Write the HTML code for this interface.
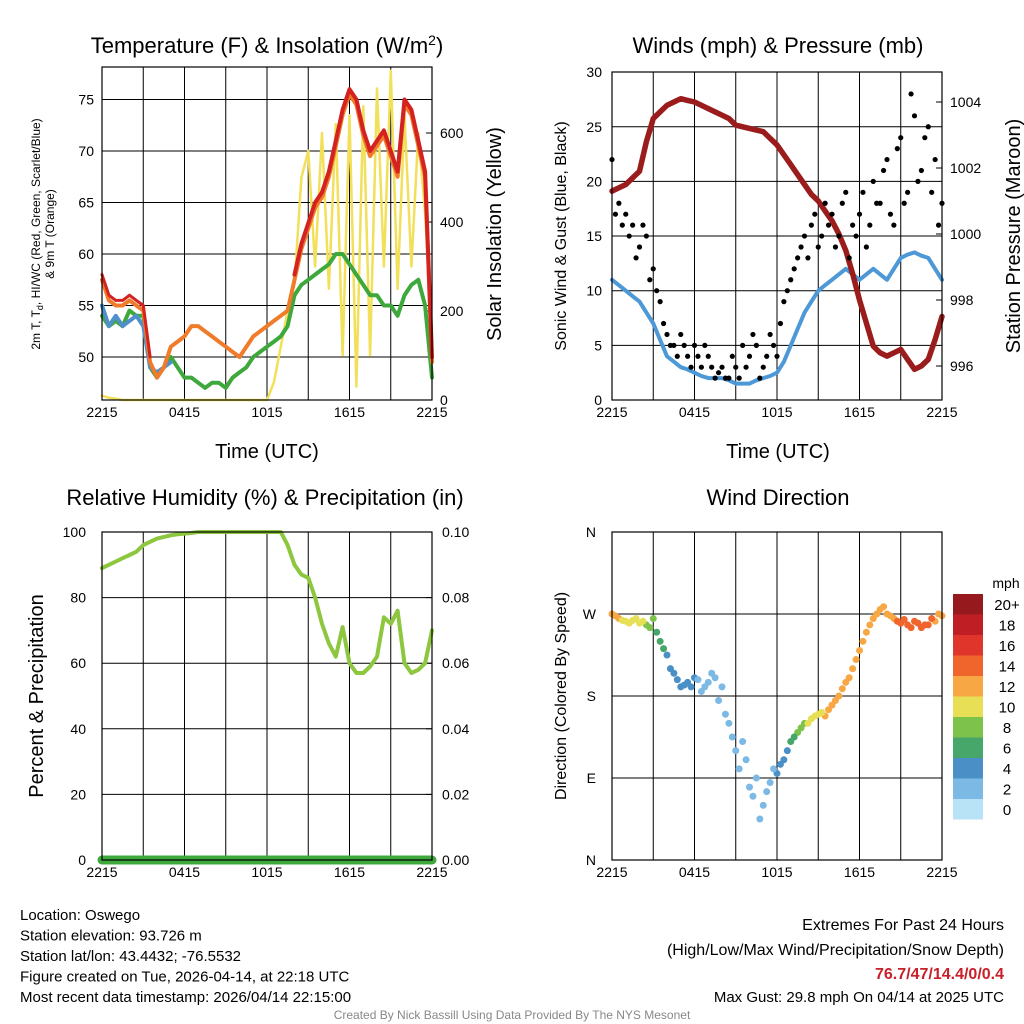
<!DOCTYPE html>
<html><head><meta charset="utf-8"><style>
html,body{margin:0;padding:0;background:#fff;}
svg{display:block;font-family:"Liberation Sans",sans-serif;}
</style></head><body>
<svg id="c" width="1024" height="1024" viewBox="0 0 1024 1024" xmlns="http://www.w3.org/2000/svg"></svg>
<script>
// ---- data (half-hourly, hours since 2215 UTC) ----
const hours = [0,0.5,1,1.5,2,2.5,3,3.5,4,4.5,5,5.5,6,6.5,7,7.5,8,8.5,9,9.5,10,10.5,11,11.5,12,12.5,13,13.5,14,14.5,15,15.5,16,16.5,17,17.5,18,18.5,19,19.5,20,20.5,21,21.5,22,22.5,23,23.5,24];
const hoursOffset = [0.25,0.75,1.25,1.75,2.25,2.75,3.25,3.75,4.25,4.75,5.25,5.75,6.25,6.75,7.25,7.75,8.25,8.75,9.25,9.75,10.25,10.75,11.25,11.75,12.25,12.75,13.25,13.75,14.25,14.75,15.25,15.75,16.25,16.75,17.25,17.75,18.25,18.75,19.25,19.75,20.25,20.75,21.25,21.75,22.25,22.75,23.25,23.75];
const xTickLabels = ["2215","0415","1015","1615","2215"];
const tempRed = [58,56,55.5,55.5,56,55.5,55,50,48,49,51,51.5,52,53,53,52.5,52,51.5,51,50.5,50,51,52,52.5,53,53.5,54,54.5,58,61,63,65,66,68,71,74,76,75,72,70,71,72,70,68,75,74,71,68,50];
const tempOrange = [57.5,55.5,55,55,55.5,55,54.5,49.5,48,49,51,51.5,52,53,53,52.5,52,51.5,51,50.5,50,51,52,52.5,53,53.5,54,54.5,57.5,60.5,62.5,64.5,65.5,67.5,70.5,73.5,75.5,74.5,71.5,69.5,70.5,71.5,69.5,67.5,74.5,73.5,70.5,67.5,49.5];
const dewGreen = [54,53,53.5,53,54.5,54,54,49,48,49,50,49,48,48,47.5,47,47.5,47.5,47,48,48.5,49,50,50.5,51,51.5,52,53,56,57,57.5,58,58.5,59,60,60,59,58,57,56,56,55,55,54,56,57,57.5,55,48];
const windChill = [55,53,54,53,53.5,54,53,49,48.5,49,49.5];
const insolation = [10,5,3,0,0,0,0,0,0,0,0,0,0,0,0,0,0,0,0,0,0,0,0,0,0,40,120,200,260,500,560,300,600,250,620,100,640,30,660,100,700,300,740,250,640,300,600,420,150];
const pressure = [1001.3,1001.4,1001.5,1001.7,1001.9,1002.8,1003.5,1003.7,1003.9,1004.0,1004.1,1004.05,1004.0,1003.9,1003.8,1003.7,1003.6,1003.5,1003.3,1003.25,1003.2,1003.15,1003.1,1002.9,1002.7,1002.4,1002.1,1001.8,1001.5,1001.2,1001.0,1000.7,1000.4,1000.0,999.5,998.8,998.0,997.3,996.6,996.4,996.3,996.4,996.5,996.2,995.9,996.0,996.2,996.8,997.5];
const windSpeed = [11,10.5,10,9.5,9,8,7,5.5,4,3.5,3,2.8,2.5,2.2,2,2,2,1.8,1.5,1.5,1.5,1.8,2,2.2,2.5,3.5,5,6.5,8,9,10,10.5,11,11.5,12,11.5,11,11.5,12,11.5,11,12,13,13.3,13.5,13.2,13,12,11];
const gusts = [22,18,17,16,14,15,12,9,6,5,6,4,5,3,4,2,3,2,3,5,4,5,3,6,4,9,11,13,15,16,14,18,17,15,19,16,17,14,20,18,22,16,24,19,26,21,25,22,18];
const gusts2 = [17,16,15,13,16,11,10,7,5,4,5,3,4,5,3,2.5,2,4,2,3,6,2,4,5,7,10,12,14,13,17,15,16,14,18,13,15,19,16,18,21,17,23,18,28,20,24,19,16];
const rh = [89,90,91,92,93,94,96,97,98,98.5,99,99.3,99.5,99.7,100,100,100,100,100,100,100,100,100,100,100,100,100,96,90,87,86,80,72,66,62,71,60,57,57,59,62,74,72,76,60,57,58,60,70];
const precip = [0,0,0,0,0,0,0,0,0,0,0,0,0,0,0,0,0,0,0,0,0,0,0,0,0,0,0,0,0,0,0,0,0,0,0,0,0,0,0,0,0,0,0,0,0,0,0,0,0];
const windDir = [270,265,262,263,260,258,265,240,225,205,190,195,200,185,195,200,190,150,120,130,80,90,60,85,95,110,130,140,150,155,160,158,170,180,195,210,230,250,265,275,270,265,260,258,262,255,258,262,268];
const windDir2 = [268,263,260,265,262,255,250,232,210,198,192,190,198,190,205,175,160,135,100,110,70,45,75,100,105,120,135,145,150,158,162,165,175,188,200,220,240,258,270,278,268,262,264,255,260,258,265,270];
const cbLabels = ["20+","18","16","14","12","10","8","6","4","2","0"];
const cbColors = ["#961a1d","#c01e25","#e0352a","#f0652c","#f7a845","#e7e057","#7cc24b","#47a76b","#4a8fc6","#7db9e5","#b8e2f6"];

const svg = document.getElementById('c');
const NS = "http://www.w3.org/2000/svg";
function mk(tag, attrs, parent){const e=document.createElementNS(NS,tag);for(const k in attrs)e.setAttribute(k,attrs[k]);(parent||svg).appendChild(e);return e;}
function txt(x,y,s,size,anchor,extra){const e=mk('text',Object.assign({x:x,y:y,'font-size':size,'text-anchor':anchor||'middle',fill:'#000'},extra||{}));e.textContent=s;return e;}
function interp(arrH,arr,h){for(let i=0;i<arrH.length-1;i++){if(h>=arrH[i]&&h<=arrH[i+1]){const f=(h-arrH[i])/(arrH[i+1]-arrH[i]);return arr[i]+(arr[i+1]-arr[i])*f;}}return arr[arr.length-1];}

function panel(x0,y0,x1,y1,name){
  const xs = h=>x0+(x1-x0)*h/24;
  for(let i=1;i<8;i++){const l=mk('line',{x1:xs(i*3),x2:xs(i*3),y1:y0,y2:y1,stroke:'#000','stroke-width':1});
    
    }
  for(let i=0;i<5;i++){const xx=xs(i*6);
    const t=txt(xx,y1+17,xTickLabels[i],14);
    
    
    mk('line',{x1:xx,x2:xx,y1:y1,y2:y1-6,stroke:'#000'});}
  return xs;
}
function frame(x0,y0,x1,y1,name){const r=mk('rect',{x:x0,y:y0,width:x1-x0,height:y1-y0,fill:'none',stroke:'#000','stroke-width':1.2});
  
  }
function poly(xs,ys,arrH,arr,color,w,name){let p='';arr.forEach((v,i)=>{p+=(i?'L':'M')+xs(arrH[i]).toFixed(1)+','+ys(v).toFixed(1);});
  const e=mk('path',{d:p,fill:'none',stroke:color,'stroke-width':w,'stroke-linejoin':'round','stroke-linecap':'round'});
  
  return e;}
function hgrid(x0,x1,y,name){const l=mk('line',{x1:x0,x2:x1,y1:y,y2:y,stroke:'#000','stroke-width':1});
  
  }

// ---- Panel 1: temperature ----
{
 const X0=102,X1=432,Y0=67,Y1=400;
 const xs=panel(X0,Y0,X1,Y1,'temp');
 const ty=v=>357-(v-50)*10.3;
 const iy=v=>400-v*0.445;
 [50,55,60,65,70,75].forEach(v=>{hgrid(X0,X1,ty(v),'temp');
   const t=txt(X0-8,ty(v)+5,String(v),14,'end');
   
   });
 [0,200,400,600].forEach(v=>{const t=txt(X1+8,iy(v)+5,String(v),14,'start');
   
   
   mk('line',{x1:X1,x2:X1-6,y1:iy(v),y2:iy(v),stroke:'#000'});});
 poly(xs,iy,hours,insolation,'#f2e05a',2.5,'insolation-line');
 poly(xs,ty,hours,dewGreen,'#3ea83c',4,'dewpoint-line');
 poly(xs,ty,hours.slice(0,windChill.length),windChill,'#4e8fcc',4,'windchill-line');
 poly(xs,ty,hours,tempOrange,'#f07b2a',4,'temp-9m-line');
 poly(xs,ty,hours.slice(28),tempRed.slice(28),'#d3221f',4,'temp-2m-line');
 poly(xs,ty,hours.slice(0,8),tempRed.slice(0,8),'#d3221f',3,'temp-2m-early-line');
 frame(X0,Y0,X1,Y1,'temp');
 const ti=txt(267,53,'Temperature (F) & Insolation (W/m',22);
 const ts=mk('tspan',{dy:-8,'font-size':14},ti);ts.textContent='2';
 const ts2=mk('tspan',{dy:8},ti);ts2.textContent=')';
 const xl=txt(267,458,'Time (UTC)',20);
 const yl1=txt(0,0,'2m T, T',12,'middle',{transform:'translate(40,234) rotate(-90)'});
 const sb=mk('tspan',{dy:3,'font-size':9},yl1);sb.textContent='d';const sb2=mk('tspan',{dy:-3},yl1);sb2.textContent=', HI/WC (Red, Green, Scarlet/Blue)';
 
 const yl2=txt(0,0,'& 9m T (Orange)',12,'middle',{transform:'translate(54,234) rotate(-90)'});
 
 const yr=txt(0,0,'Solar Insolation (Yellow)',20,'middle',{transform:'translate(501,234) rotate(-90)'});
 
}

// ---- Panel 2: winds & pressure ----
{
 const X0=612,X1=942,Y0=72,Y1=400;
 const xs=panel(X0,Y0,X1,Y1,'wind');
 const wy=v=>400-v*10.93;
 const py=v=>366-(v-996)*33;
 [0,5,10,15,20,25,30].forEach(v=>{if(v>0&&v<30)hgrid(X0,X1,wy(v),'wind');
   const t=txt(X0-10,wy(v)+5,String(v),14,'end');
   
   });
 [996,998,1000,1002,1004].forEach(v=>{const t=txt(X1+8,py(v)+5,String(v),14,'start');
   
   
   mk('line',{x1:X1,x2:X1-6,y1:py(v),y2:py(v),stroke:'#000'});});
 poly(xs,wy,hours,windSpeed,'#4d98d6',4,'sonic-wind-line');
 poly(xs,py,hours,pressure,'#9b1c1c',5.5,'pressure-line');
 gusts.forEach((g,i)=>{const c=mk('circle',{cx:xs(hours[i]),cy:wy(g),r:2.6,fill:'#000'});
   
   });
 gusts2.forEach((g,i)=>{const c=mk('circle',{cx:xs(hoursOffset[i]),cy:wy(g),r:2.6,fill:'#000'});
   
   });
 frame(X0,Y0,X1,Y1,'wind');
 const ti=txt(778,53,'Winds (mph) & Pressure (mb)',22);
 const xl=txt(778,458,'Time (UTC)',20);
 const yl=txt(0,0,'Sonic Wind & Gust (Blue, Black)',16,'middle',{transform:'translate(566,236) rotate(-90)'});
 
 const yr=txt(0,0,'Station Pressure (Maroon)',20,'middle',{transform:'translate(1020,236) rotate(-90)'});
 
}

// ---- Panel 3: RH & precip ----
{
 const X0=102,X1=432,Y0=532,Y1=860;
 const xs=panel(X0,Y0,X1,Y1,'rh');
 const ry=v=>860-v*3.28;
 const py=v=>860-v*3280;
 [0,20,40,60,80,100].forEach(v=>{if(v>0&&v<100)hgrid(X0,X1,ry(v),'rh');
   const t=txt(X0-16,ry(v)+5,String(v),14,'end');
   
   });
 [0,0.02,0.04,0.06,0.08,0.10].forEach(v=>{const t=txt(X1+10,py(v)+5,v.toFixed(2),14,'start');
   
   
   mk('line',{x1:X1,x2:X1-6,y1:py(v),y2:py(v),stroke:'#000'});});
 poly(xs,ry,hours,rh,'#8dc63f',4,'rh-line');
 poly(xs,py,hours,precip,'#3ea83c',9,'precip-line');
 frame(X0,Y0,X1,Y1,'rh');
 const ti=txt(265,505,'Relative Humidity (%) & Precipitation (in)',22);
 const yl=txt(0,0,'Percent & Precipitation',20,'middle',{transform:'translate(43,696) rotate(-90)'});
 
}

// ---- Panel 4: wind direction ----
{
 const X0=612,X1=942,Y0=532,Y1=860;
 const xs=panel(X0,Y0,X1,Y1,'dir');
 const dy=v=>860-v*(328/360);
 ['N','E','S','W','N'].forEach((s,i)=>{const v=i*90;if(i>0&&i<4)hgrid(X0,X1,dy(v),'dir');
   const t=txt(X0-16,dy(v)+5,s,14,'end');
   
   });
 const col=s=>cbColors[10-Math.min(10,Math.floor((s+1.5)/2))];
 windDir.forEach((d,i)=>{const c=mk('circle',{cx:xs(hours[i]),cy:dy(d),r:3.5,fill:col(windSpeed[i])});
   
   });
 windDir2.forEach((d,i)=>{const c=mk('circle',{cx:xs(hoursOffset[i]),cy:dy(d),r:3.5,fill:col(interp(hours,windSpeed,hoursOffset[i]))});
   
   });
 frame(X0,Y0,X1,Y1,'dir');
 const ti=txt(778,505,'Wind Direction',22);
 const yl=txt(0,0,'Direction (Colored By Speed)',16,'middle',{transform:'translate(566,696) rotate(-90)'});
 
 const u=txt(1006,588,'mph',14);
 cbColors.forEach((c,i)=>{const r=mk('rect',{x:953,y:594+i*20.5,width:30,height:20.5,fill:c});
   
   
   const t=txt(1007,610+i*20.5,cbLabels[i],15);
   
   });
}

// ---- footer ----
const leftLines=["Location: Oswego","Station elevation: 93.726 m","Station lat/lon: 43.4432; -76.5532","Figure created on Tue, 2026-04-14, at 22:18 UTC","Most recent data timestamp: 2026/04/14 22:15:00"];
leftLines.forEach((s,i)=>{const t=txt(20,920+i*20.5,s,15,'start');});
const r1=txt(1004,930,'Extremes For Past 24 Hours',16,'end');
const r2=txt(1004,955,'(High/Low/Max Wind/Precipitation/Snow Depth)',16,'end');
const r3=txt(1004,979,'76.7/47/14.4/0/0.4',16,'end',{fill:'#c8202a','font-weight':'bold'});
const r4=txt(1004,1002,'Max Gust: 29.8 mph On 04/14 at 2025 UTC',15,'end');
const cr=txt(512,1019,'Created By Nick Bassill Using Data Provided By The NYS Mesonet',12,'middle',{fill:'#888'});
</script>
</body></html>
